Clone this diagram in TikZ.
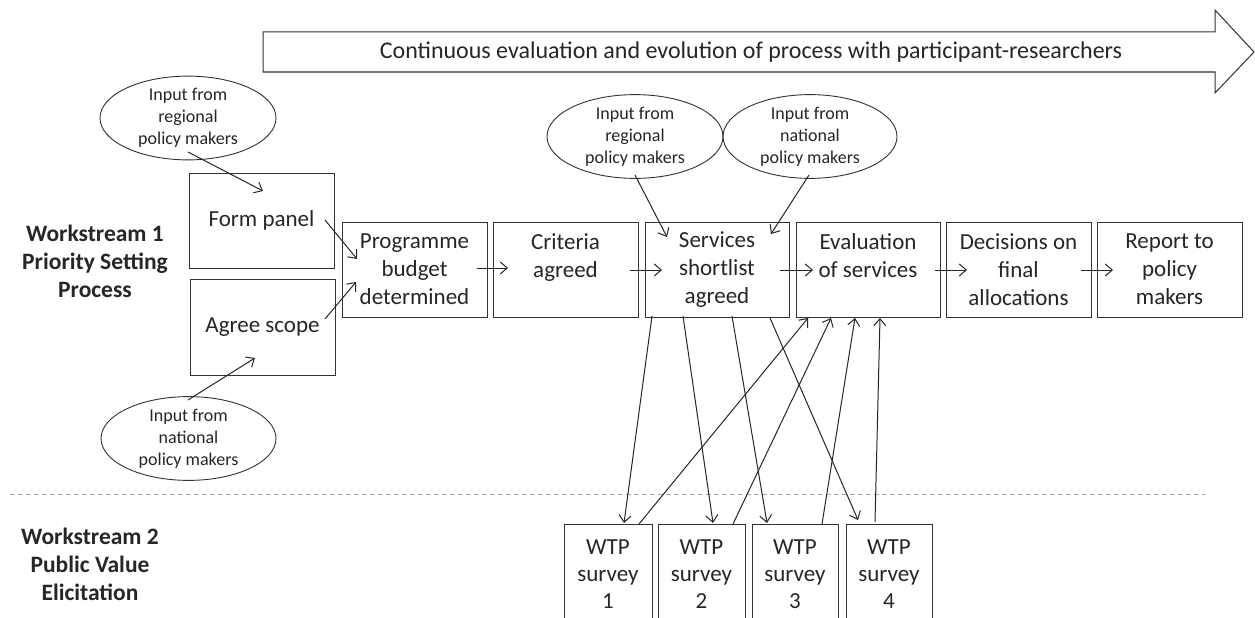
\documentclass[tikz,border=0pt]{standalone}
\usepackage{fontspec}
\setmainfont{Carlito}
\usetikzlibrary{shapes.geometric,arrows.meta}
\definecolor{ink}{RGB}{38,38,38}
\definecolor{edge}{RGB}{50,50,50}
\tikzset{
  stepbox/.style={draw=edge,line width=1pt,rectangle,inner sep=0pt,align=center,text=ink,
    minimum width=145pt,minimum height=95pt,font=\fontsize{23}{28}\selectfont},
  wtpbox/.style={draw=edge,line width=1pt,rectangle,inner sep=0pt,align=center,text=ink,
    minimum height=100pt,font=\fontsize{23}{27}\selectfont},
  inputell/.style={draw=edge,line width=0.9pt,ellipse,inner sep=0pt,align=center,text=ink,
    minimum width=176pt,minimum height=77pt,font=\fontsize{18}{22}\selectfont},
  streamlabel/.style={align=center,text=ink,font=\bfseries\fontsize{23.5}{28}\selectfont},
  conn/.style={draw=ink,line width=1pt,-{Straight Barb[length=7pt,width=12pt]}},
}
\begin{document}
\begin{tikzpicture}[x=1pt,y=-1pt]
\clip (0,0) rectangle (1255,618);
\fill[white] (0,0) rectangle (1255,618);

% big arrow
\draw[edge,line width=1pt,fill=white] (263,32) -- (1215,32) -- (1215,10) -- (1254,52) -- (1215,93) -- (1215,72) -- (263,72) -- cycle;
\node[text=ink,font=\fontsize{24}{28}\selectfont] (cont) at (751,52) {Continuous evaluation and evolution of process with participant-researchers};

% dashed separator
\draw[gray!70,line width=0.9pt,dash pattern=on 5pt off 3pt] (10,494) -- (1205,494);

% labels
\node[streamlabel] (ws1) at (95,261) {Workstream 1\\Priority Setting\\Process};
\node[streamlabel] (ws2) at (90,564) {Workstream 2\\Public Value\\Elicitation};

% ellipses
\node[inputell,minimum height=67pt] (e1) at (188,118) {Input from\\regional\\policy makers};
\node[inputell] (e2) at (635,136.5) {Input from\\regional\\policy makers};
\node[inputell,minimum width=174pt] (e3) at (810,136.5) {Input from\\national\\policy makers};
\node[inputell,minimum width=175pt] (e4) at (188.5,438.5) {Input from\\national\\policy makers};

% boxes
\node[stepbox] (form) at (261.5,220.5) {Form panel};
\node[stepbox,minimum height=96pt] (agree) at (262.5,327) {Agree scope};
\node[stepbox] (prog) at (414.5,269.5) {Programme\\budget\\determined};
\node[stepbox] (crit) at (565.5,269.5) {Criteria\\agreed\\\mbox{}};
\node[stepbox,minimum width=144pt] (serv) at (717,269.5) {Services\\shortlist\\agreed};
\node[stepbox,minimum width=144pt] (eval) at (868,269.5) {Evaluation\\of services\\\mbox{}};
\node[stepbox] (dec) at (1018.5,269.5) {Decisions on\\final\\allocations};
\node[stepbox] (rep) at (1169.5,269.5) {Report to\\policy\\makers};

% WTP boxes
\node[wtpbox,minimum width=88pt] (w1) at (608,574) {WTP\\survey\\1};
\node[wtpbox,minimum width=87pt] (w2) at (701.5,574) {WTP\\survey\\2};
\node[wtpbox,minimum width=86pt] (w3) at (795,574) {WTP\\survey\\3};
\node[wtpbox,minimum width=86pt] (w4) at (889,574) {WTP\\survey\\4};

% connector endpoints
\coordinate (e1s) at (188,152);   \coordinate (formin) at (263,191);
\coordinate (e4n) at (188,400);   \coordinate (agreein) at (255,358);
\coordinate (e2s) at (635,175);   \coordinate (servin1) at (667,237);
\coordinate (e3s) at (809,175);   \coordinate (servin2) at (771,234);
\coordinate (formout) at (325,220); \coordinate (progin1) at (357,259);
\coordinate (agreeout) at (325,319); \coordinate (progin2) at (356,282);
\coordinate (progout) at (477,268); \coordinate (critin) at (508,268);
\coordinate (critout) at (630,270); \coordinate (servin) at (662,270);
\coordinate (servout) at (780,270); \coordinate (evalin) at (813,270);
\coordinate (evalout) at (935,270); \coordinate (decin) at (967,270);
\coordinate (decout) at (1081,270); \coordinate (repin) at (1113,270);
% down from services
\coordinate (sd1) at (652,316); \coordinate (w1in) at (624,523);
\coordinate (sd2) at (683,316); \coordinate (w2in) at (713,523);
\coordinate (sd3) at (732,316); \coordinate (w3in) at (767,523);
\coordinate (sd4) at (770,318); \coordinate (w4in) at (858,520);
% up to evaluation
\coordinate (w1out) at (639,524); \coordinate (eu1) at (808,318);
\coordinate (w2out) at (733,524); \coordinate (eu2) at (831,318);
\coordinate (w3out) at (822,524); \coordinate (eu3) at (855,318);
\coordinate (w4out) at (875,522); \coordinate (eu4) at (880,318);

\draw[conn] (e1s) -- (formin);
\draw[conn] (e4n) -- (agreein);
\draw[conn] (e2s) -- (servin1);
\draw[conn] (e3s) -- (servin2);
\draw[conn] (formout) -- (progin1);
\draw[conn] (agreeout) -- (progin2);
\draw[conn] (progout) -- (critin);
\draw[conn] (critout) -- (servin);
\draw[conn] (servout) -- (evalin);
\draw[conn] (evalout) -- (decin);
\draw[conn] (decout) -- (repin);
\draw[conn] (sd1) -- (w1in);
\draw[conn] (sd2) -- (w2in);
\draw[conn] (sd3) -- (w3in);
\draw[conn] (sd4) -- (w4in);
\draw[conn] (w1out) -- (eu1);
\draw[conn] (w2out) -- (eu2);
\draw[conn] (w3out) -- (eu3);
\draw[conn] (w4out) -- (eu4);
\end{tikzpicture}
\end{document}
